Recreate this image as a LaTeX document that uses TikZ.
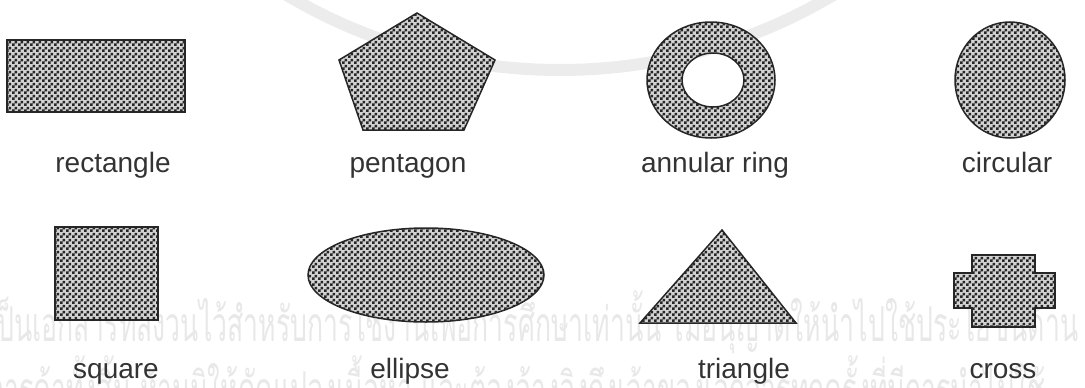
\documentclass[tikz,border=0pt]{standalone}
\usepackage{fontspec}
\setmainfont{Liberation Sans}
\newfontfamily\thaifont[Script=Thai]{Loma}
\usetikzlibrary{patterns}
\pgfdeclarepatternformonly{checker}{\pgfqpoint{0pt}{0pt}}{\pgfqpoint{6pt}{6pt}}{\pgfqpoint{6pt}{6pt}}{%
  \pgfpathrectangle{\pgfqpoint{0pt}{0pt}}{\pgfqpoint{3pt}{3pt}}%
  \pgfpathrectangle{\pgfqpoint{3pt}{3pt}}{\pgfqpoint{3pt}{3pt}}%
  \pgfusepath{fill}}
\tikzset{
  shapefill/.style={draw=black!85, line width=1.5pt, fill=gray!35,
    postaction={pattern=checker, pattern color=black!85}},
  lbl/.style={anchor=base, inner sep=0pt, text=black!80,
    font=\fontsize{28}{30}\selectfont},
  wm/.style={anchor=base west, inner sep=0pt, text=gray!18, xscale=0.555,
    font=\thaifont\fontsize{48}{50}\selectfont},
}
\begin{document}
\begin{tikzpicture}[x=1pt,y=-1pt]
\useasboundingbox (0,0) rectangle (1085,388);
\clip (0,0) rectangle (1085,388);
% watermark
\draw[line width=12pt, gray!15] (560,-465) circle (535pt);
\node[wm] (wm1) at (-12,341) {เป็นเอกสารที่สงวนไว้สำหรับการใช้งานเพื่อการศึกษาเท่านั้น ไม่อนุญาตให้นำไปใช้ประโยชน์ด้าน};
\node[wm] (wm2) at (-12,406) {การค้าทั้งสิ้น ห้ามมิให้ดัดแปลงเนื้อหา และต้องอ้างอิงถึงเจ้าของเอกสารทุกครั้งที่มีการนำไปใช้};
% shapes, top row
\path[shapefill] (7,40) rectangle (185,112);
\path[shapefill] (417,13) -- (495,60) -- (464,130) -- (363,130) -- (339,60) -- cycle;
\path[shapefill, even odd rule] (711,80) ellipse [x radius=64, y radius=58]
  (713,80) ellipse [x radius=31, y radius=27];
\path[shapefill] (1010,80) ellipse [x radius=55, y radius=58];
% shapes, bottom row
\path[shapefill] (55,227) rectangle (158,320);
\path[shapefill] (426,275) ellipse [x radius=118, y radius=47];
\path[shapefill] (722,230) -- (796,323) -- (640,323) -- cycle;
\path[shapefill] (972,255) -- (1035,255) -- (1035,273) -- (1055,273) -- (1055,308)
  -- (1035,308) -- (1035,327) -- (972,327) -- (972,308) -- (954,308) -- (954,273)
  -- (972,273) -- cycle;
% labels
\node[lbl] (l1) at (113,172) {rectangle};
\node[lbl] (l2) at (408,172) {pentagon};
\node[lbl] (l3) at (715,172) {annular ring};
\node[lbl] (l4) at (1007,172) {circular};
\node[lbl] (l5) at (116,378) {square};
\node[lbl] (l6) at (410,378) {ellipse};
\node[lbl] (l7) at (744,378) {triangle};
\node[lbl] (l8) at (1003,378) {cross};
\end{tikzpicture}
\end{document}
